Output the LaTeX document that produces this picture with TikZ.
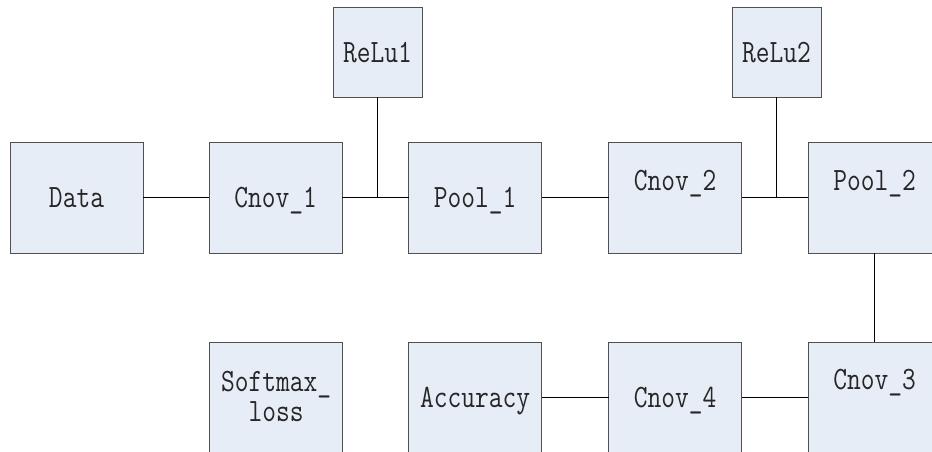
\documentclass[tikz,border=0pt]{standalone}
\usepackage{fontspec}
\usepackage{graphicx}
\usetikzlibrary{calc}
\definecolor{boxfill}{HTML}{E7EDF7}
\definecolor{boxline}{HTML}{505050}
\newcommand{\lbltext}[1]{\scalebox{1}[1.22]{#1}}
\begin{document}
\begin{tikzpicture}[x=1pt,y=-1pt,
  box/.style={draw=boxline, fill=boxfill, line width=1pt, minimum width=133pt, minimum height=111pt, inner sep=0pt, outer sep=0pt},
  rbox/.style={box, minimum width=89pt, minimum height=89pt},
  txt/.style={font=\ttfamily\fontsize{26.7}{32}\selectfont, inner sep=0pt, anchor=base, text=black!85},
  link/.style={draw=black, line width=1pt}]
\useasboundingbox (0,0) rectangle (932,452);
\clip (0,0) rectangle (932,452);
\fill[white] (0,0) rectangle (932,452);
% top row
\node[box] (data) at (76.5,197.5) {};
\node[box] (cnov1) at (275.5,197.5) {};
\node[box] (pool1) at (475,197.5) {};
\node[box] (cnov2) at (675,197.5) {};
\node[box] (pool2) at (874.5,197.5) {};
\node[rbox] (relu1) at (377.5,52.5) {};
\node[rbox] (relu2) at (776.5,52.5) {};
% bottom row
\node[box] (softmax) at (276,397.5) {};
\node[box] (accuracy) at (475,397.5) {};
\node[box] (cnov4) at (675,397.5) {};
\node[box] (cnov3) at (874.5,397.5) {};
% texts (base anchored)
\node[txt] (data-t) at ($(data.center)+(0,10)$) {\lbltext{Data}};
\node[txt] (cnov1-t) at ($(cnov1.center)+(0,10)$) {\lbltext{Cnov\_1}};
\node[txt] (pool1-t) at ($(pool1.center)+(0,10)$) {\lbltext{Pool\_1}};
\node[txt] (cnov2-t) at ($(cnov2.center)+(0,-7.5)$) {\lbltext{Cnov\_2}};
\node[txt] (pool2-t) at ($(pool2.center)+(0,-7.5)$) {\lbltext{Pool\_2}};
\node[txt] (relu1-t) at ($(relu1.center)+(0,10)$) {\lbltext{ReLu1}};
\node[txt] (relu2-t) at ($(relu2.center)+(0,10)$) {\lbltext{ReLu2}};
\node[txt] (softmax-t1) at ($(softmax.center)+(0,-6.5)$) {\lbltext{Softmax\_}};
\node[txt] (softmax-t2) at ($(softmax.center)+(0,23.5)$) {\lbltext{loss}};
\node[txt] (accuracy-t) at ($(accuracy.center)+(0,10)$) {\lbltext{Accuracy}};
\node[txt] (cnov4-t) at ($(cnov4.center)+(0,10)$) {\lbltext{Cnov\_4}};
\node[txt] (cnov3-t) at ($(cnov3.center)+(0,-8.5)$) {\lbltext{Cnov\_3}};
% connectors
\draw[link] (data) -- (cnov1);
\draw[link] (cnov1) -- (pool1);
\draw[link] (relu1) -- (relu1.south |- cnov1.east);
\draw[link] (pool1) -- (cnov2);
\draw[link] (cnov2) -- (pool2);
\draw[link] (relu2) -- (relu2.south |- cnov2.east);
\draw[link] (pool2) -- (cnov3);
\draw[link] (cnov3) -- (cnov4);
\draw[link] (cnov4) -- (accuracy);
\end{tikzpicture}
\end{document}
